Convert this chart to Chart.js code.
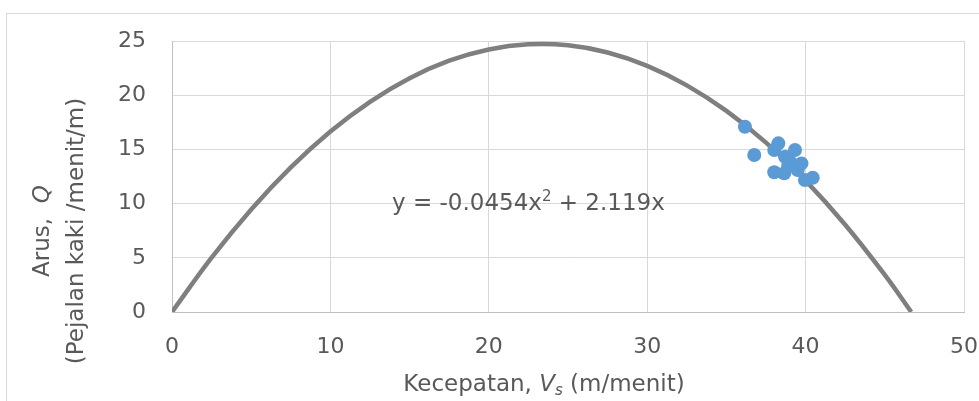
<!DOCTYPE html>
<html>
<head>
<meta charset="utf-8">
<script src="https://cdn.jsdelivr.net/npm/chart.js@4"></script>
<style>
    html, body { margin: 0; padding: 0; background: #fff; }
    #wrap { position: relative; width: 979px; height: 401px; }
    #frame { position: absolute; left: 6px; top: 13px; width: 980px; height: 420px; border: 1px solid #d9d9d9; box-sizing: border-box; }
    canvas { position: absolute; left: 0; top: 0; }
</style>
</head>
<body>
<div id="wrap">
    <div id="frame"></div>
    <canvas id="chart" width="979" height="401"></canvas>
</div>
<script>
// data
const speed = [36.17, 36.76, 38.28, 38.02, 39.33, 38.02, 38.65, 38.7, 39.02, 39.74, 39.5, 39.96, 40.45, 38.9];
const flow = [17.09, 14.48, 15.56, 14.94, 14.94, 12.89, 12.79, 14.32, 13.86, 13.71, 13.1, 12.18, 12.39, 13.5];

// trendline points
const curveX = [0, 2.5, 5, 7.5, 10, 12.5, 15, 17.5, 20, 22.5, 25, 27.5, 30, 32.5, 35, 37.5, 40, 42.5, 45, 46.67];
const curveY = [0, 5.01, 9.46, 13.34, 16.65, 19.39, 21.57, 23.18, 24.22, 24.69, 24.6, 23.94, 22.71, 20.91, 18.55, 15.62, 12.12, 8.05, 3.42, 0];

const xTicks = [0, 10, 20, 30, 40, 50];
const yTicks = [0, 5, 10, 15, 20, 25];

const FONT = "'DejaVu Sans', Verdana, sans-serif";
const TXT = "#595959";

// draw a run of text pieces with their own fonts and offsets
function drawRun(ctx, parts, x, y) {
    parts.forEach(p => {
        ctx.font = p.f;
        ctx.fillText(p.t, x, y + (p.dy || 0));
        x += ctx.measureText(p.t).width;
    });
}

function runWidth(ctx, parts) {
    let w = 0;
    parts.forEach(p => { ctx.font = p.f; w += ctx.measureText(p.t).width; });
    return w;
}

// axis titles and the equation, drawn by hand for the italic parts
const labelsPlugin = {
    id: "labels",
    afterDraw(chart) {
        const ctx = chart.ctx;
        ctx.save();
        ctx.fillStyle = TXT;
        ctx.textBaseline = "middle";
        ctx.textAlign = "left";

        // equation
        const eq = [
            { t: "y = -0.0454x", f: "23px " + FONT },
            { t: "2", f: "15px " + FONT, dy: -7 },
            { t: " + 2.119x", f: "23px " + FONT }
        ];
        drawRun(ctx, eq, 392, 204);

        // x title: Kecepatan, Vs (m/menit)
        const xt = [
            { t: "Kecepatan, ", f: "23px " + FONT },
            { t: "V", f: "italic 23px " + FONT },
            { t: "s", f: "italic 15px " + FONT, dy: 6 },
            { t: " (m/menit)", f: "23px " + FONT }
        ];
        drawRun(ctx, xt, 544 - runWidth(ctx, xt) / 2, 385);

        // y title, rotated, two lines
        ctx.translate(0, 231);
        ctx.rotate(-Math.PI / 2);
        const l1 = [
            { t: "Arus,  ", f: "23px " + FONT },
            { t: "Q", f: "italic 23px " + FONT }
        ];
        drawRun(ctx, l1, -runWidth(ctx, l1) / 2, 43);
        ctx.font = "23px " + FONT;
        ctx.textAlign = "center";
        ctx.fillText("(Pejalan kaki /menit/m)", 0, 77);
        ctx.restore();
    }
};

function noPad(s) {
    s.paddingLeft = 0;
    s.paddingRight = 0;
    s.paddingTop = 0;
    s.paddingBottom = 0;
}

function initialize() {
    const ctx = document.getElementById("chart").getContext("2d");
    new Chart(ctx, {
        type: "scatter",
        data: {
            datasets: [
                {
                    type: "line",
                    data: curveX.map((v, i) => ({ x: v, y: curveY[i] })),
                    borderColor: "#7f7f7f",
                    borderWidth: 4.5,
                    pointRadius: 0,
                    tension: 0.4,
                    fill: false,
                    order: 2
                },
                {
                    data: speed.map((v, i) => ({ x: v, y: flow[i] })),
                    backgroundColor: "#5b9bd5",
                    borderColor: "#5b9bd5",
                    borderWidth: 0,
                    pointRadius: 7,
                    order: 1
                }
            ]
        },
        options: {
            responsive: false,
            animation: false,
            layout: { padding: { left: 0, right: 15, top: 41, bottom: 0 } },
            plugins: { legend: { display: false }, tooltip: { enabled: false } },
            scales: {
                x: {
                    type: "linear",
                    min: 0,
                    max: 50,
                    afterFit: s => { s.height = 89; noPad(s); },
                    afterBuildTicks: s => { s.ticks = xTicks.map(v => ({ value: v })); },
                    grid: { color: "#d9d9d9", lineWidth: 1, drawTicks: false },
                    border: { color: "#bfbfbf", width: 1 },
                    ticks: { color: TXT, font: { family: FONT, size: 22 }, padding: 22 }
                },
                y: {
                    type: "linear",
                    min: 0,
                    max: 25,
                    afterFit: s => { s.width = 172; noPad(s); },
                    afterBuildTicks: s => { s.ticks = yTicks.map(v => ({ value: v })); },
                    grid: { color: "#d9d9d9", lineWidth: 1, drawTicks: false },
                    border: { color: "#bfbfbf", width: 1 },
                    ticks: { color: TXT, font: { family: FONT, size: 22 }, padding: 26 }
                }
            }
        },
        plugins: [labelsPlugin]
    });
}

initialize();
</script>
</body>
</html>
